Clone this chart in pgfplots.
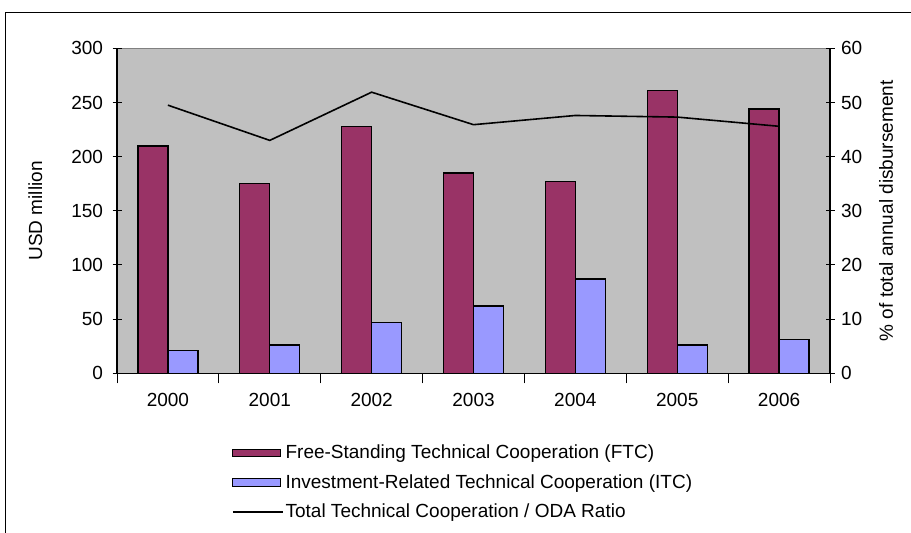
\documentclass[border=0pt]{standalone}
\usepackage{fontspec}
\setmainfont{Liberation Sans}
\usepackage{pgfplots}
\pgfplotsset{compat=1.18}
\definecolor{ftc}{HTML}{993366}
\definecolor{itc}{HTML}{9999FF}
\definecolor{bggray}{HTML}{C0C0C0}
\definecolor{bordergray}{HTML}{808080}
\pgfplotsset{
  barlegend/.style={legend image code/.code={\draw[##1] (0bp,-3.8bp) rectangle (48bp,3.8bp);}},
  linelegend/.style={legend image code/.code={\draw[##1] (0bp,0bp) -- (50bp,0bp);}},
  myaxis/.style={
    at={(117bp,-373.3bp)}, anchor=south west,
    scale only axis, width=713bp, height=325bp,
    xmin=-0.5, xmax=6.5,
    /pgf/number format/assume math mode=true,
    tick align=center,
    major tick length=9bp, minor tick length=10bp,
    tick style={black, line width=1bp},
    axis line style={-, black, line width=1.1bp},
  }
}
\begin{document}
\fontsize{19bp}{22bp}\selectfont
\begin{tikzpicture}[x=1bp,y=1bp]
\useasboundingbox (0,0) rectangle (911,-533);
\draw[line width=1.3bp] (5.5,-12.5) rectangle (1000,-600);
\begin{axis}[
  myaxis,
  ymin=0, ymax=300,
  axis x line*=bottom, axis y line*=left,
  axis background/.style={fill=bggray, draw=bordergray, line width=1.2bp},
  ytick={0,50,...,300},
  xtick={0,...,6}, xticklabels={2000,2001,2002,2003,2004,2005,2006},
  major x tick style={draw=none},
  minor xtick={-0.5,0.5,...,6.5},
  xticklabel style={yshift=-4bp},
  yticklabel style={xshift=-3bp},
  ylabel={USD million},
  ylabel style={yshift=16bp},
  ybar, bar width=30bp,
]
\addplot[fill=ftc, draw=black, line width=1.4bp, bar shift=-15bp] coordinates {
  (0,210) (1,175) (2,228) (3,185) (4,177) (5,261) (6,244)};
\addplot[fill=itc, draw=black, line width=1.4bp, bar shift=15bp] coordinates {
  (0,21) (1,26) (2,47) (3,62) (4,87) (5,26) (6,31)};
\end{axis}
\begin{axis}[
  myaxis,
  ymin=0, ymax=60,
  axis y line*=right, axis x line=none,
  ytick={0,10,...,60},
  yticklabel style={xshift=0bp},
  ylabel={\% of total annual disbursement},
  ylabel style={yshift=-4bp},
  legend style={at={(0.161,-0.213)}, anchor=north west, draw=none, fill=none,
    inner sep=0pt, row sep=9bp, font=\fontsize{19bp}{22bp}\selectfont},
  legend cell align=left,
]
\addlegendimage{fill=ftc, draw=black, line width=1.3bp, barlegend}
\addlegendimage{fill=itc, draw=black, line width=1.3bp, barlegend}
\addplot[black, line width=1.6bp, mark=none, linelegend] coordinates {
  (0,49.5) (1,43.0) (2,51.9) (3,45.9) (4,47.6) (5,47.3) (6,45.6)};
\legend{Free-Standing Technical Cooperation (FTC),
  Investment-Related Technical Cooperation (ITC),
  Total Technical Cooperation / ODA Ratio}
\end{axis}
\end{tikzpicture}
\end{document}
